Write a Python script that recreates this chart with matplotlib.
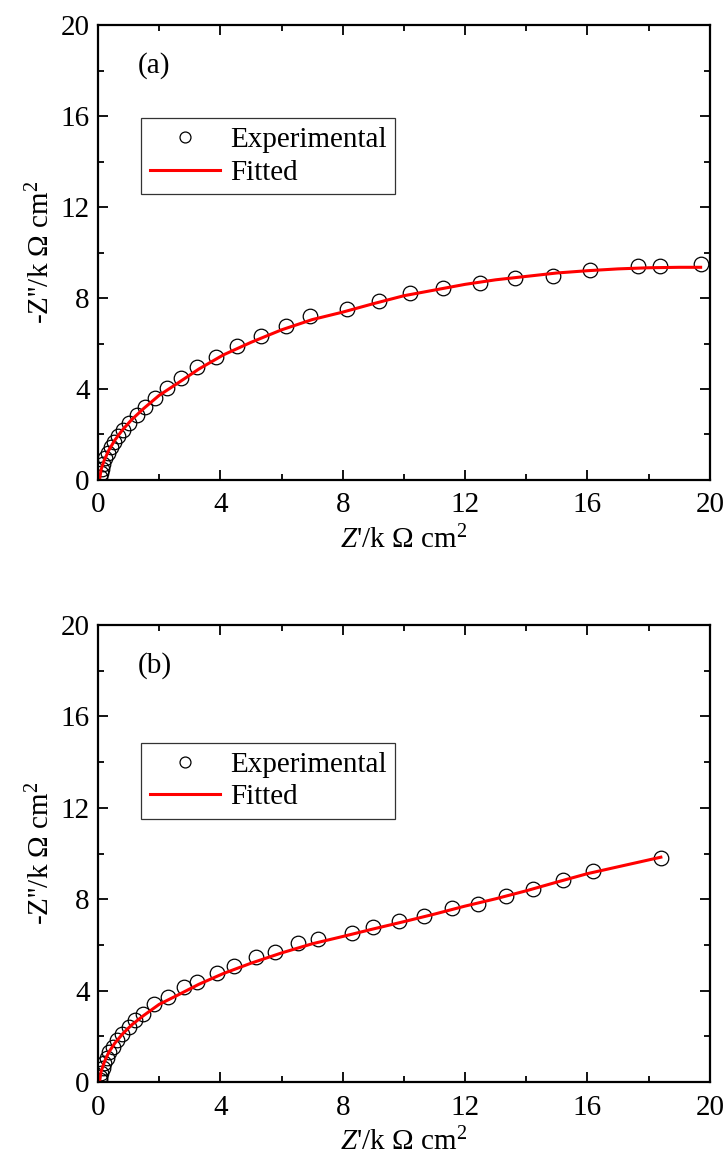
import matplotlib
matplotlib.use("Agg")
import matplotlib.pyplot as plt
from matplotlib.ticker import MultipleLocator

plt.rcParams['font.family'] = ['Liberation Serif', 'DejaVu Serif']
plt.rcParams['mathtext.fontset'] = 'custom'
plt.rcParams['mathtext.rm'] = 'Liberation Serif'
plt.rcParams['mathtext.it'] = 'Liberation Serif:italic'

# panel (a) data
exp_a_x = [0.07, 0.10, 0.13, 0.18, 0.24, 0.32, 0.42, 0.52, 0.64, 0.82, 1.01, 1.27,
           1.54, 1.86, 2.25, 2.71, 3.24, 3.86, 4.54, 5.33, 6.14, 6.93, 8.14, 9.2,
           10.2, 11.27, 12.48, 13.63, 14.87, 16.08, 17.65, 18.37, 19.7]
exp_a_y = [0.12, 0.3, 0.5, 0.72, 0.95, 1.2, 1.45, 1.68, 1.92, 2.2, 2.5, 2.86,
           3.2, 3.6, 4.05, 4.48, 4.95, 5.4, 5.87, 6.31, 6.75, 7.22, 7.53, 7.88,
           8.24, 8.42, 8.68, 8.88, 8.97, 9.25, 9.4, 9.4, 9.48]
fit_a_x = [0.05, 0.1, 0.2, 0.35, 0.55, 0.8, 1.1, 1.5, 2.0, 2.6, 3.3, 4.1, 5.0,
           6.0, 7.0, 8.0, 9.0, 10.0, 11.0, 12.0, 13.0, 14.0, 15.0, 16.0, 17.0,
           18.0, 19.0, 19.7]
fit_a_y = [0.0, 0.45, 0.85, 1.3, 1.75, 2.2, 2.65, 3.15, 3.72, 4.25, 4.88, 5.5,
           6.05, 6.6, 7.05, 7.38, 7.75, 8.1, 8.35, 8.6, 8.8, 8.95, 9.1, 9.2,
           9.28, 9.33, 9.35, 9.35]

# panel (b) data
exp_b_x = [0.06, 0.08, 0.11, 0.15, 0.21, 0.28, 0.37, 0.48, 0.62, 0.8, 1.0, 1.21,
           1.47, 1.83, 2.29, 2.81, 3.24, 3.89, 4.44, 5.16, 5.78, 6.54, 7.19, 8.3,
           8.99, 9.84, 10.65, 11.57, 12.42, 13.33, 14.22, 15.2, 16.18, 18.4]
exp_b_y = [0.08, 0.22, 0.4, 0.6, 0.82, 1.05, 1.3, 1.55, 1.82, 2.1, 2.4, 2.71,
           2.98, 3.41, 3.72, 4.16, 4.38, 4.77, 5.08, 5.47, 5.69, 6.08, 6.26, 6.52,
           6.78, 7.05, 7.26, 7.6, 7.79, 8.14, 8.44, 8.84, 9.23, 9.8]
fit_b_x = [0.05, 0.1, 0.2, 0.35, 0.55, 0.8, 1.1, 1.5, 2.0, 2.6, 3.3, 4.1, 5.0,
           6.0, 7.0, 8.0, 9.0, 10.0, 11.0, 12.0, 13.0, 14.0, 15.0, 16.0, 17.0,
           18.0, 18.4]
fit_b_y = [0.0, 0.45, 0.85, 1.3, 1.7, 2.1, 2.5, 2.92, 3.4, 3.8, 4.28, 4.75, 5.2,
           5.65, 6.05, 6.37, 6.7, 7.02, 7.35, 7.7, 8.02, 8.37, 8.75, 9.12, 9.42,
           9.72, 9.84]

ticks = [0, 4, 8, 12, 16, 20]
fs = 21

fig = plt.figure(figsize=(7.28, 11.65), dpi=100)
ax_a = fig.add_axes([0.1346, 0.588, 0.8404, 0.3905])
ax_b = fig.add_axes([0.1346, 0.0712, 0.8404, 0.3923])


def draw_panel(ax, ex, ey, fx, fy, tag, leg_box):
    ax.plot(ex, ey, 'o', mfc='none', mec='black', ms=10.5, mew=0.9,
            label='Experimental')
    ax.plot(fx, fy, '-', color='red', lw=2.2, label='Fitted')
    ax.set_xlim(0, 20)
    ax.set_ylim(0, 20)
    ax.set_xticks(ticks)
    ax.set_yticks(ticks)
    ax.xaxis.set_minor_locator(MultipleLocator(2))
    ax.yaxis.set_minor_locator(MultipleLocator(2))
    ax.tick_params(which='both', direction='in', top=True, right=True,
                   labelsize=fs, width=1.3, pad=6)
    ax.tick_params(axis='x', which='both', pad=9)
    ax.tick_params(which='major', length=7)
    ax.tick_params(which='minor', length=4)
    for s in ax.spines.values():
        s.set_linewidth(1.6)
    ax.set_xlabel(r"$\it{Z}$'/k $\Omega$ cm$^2$", fontsize=fs, labelpad=5)
    ax.set_ylabel(r"-Z''/k $\Omega$ cm$^2$", fontsize=fs, labelpad=4)
    ax.text(0.065, 0.912, tag, transform=ax.transAxes, fontsize=fs,
            va='center', ha='left')
    leg = ax.legend(loc='upper left', bbox_to_anchor=leg_box, fontsize=fs,
                    frameon=True, fancybox=False, edgecolor='black',
                    borderpad=0.3, handlelength=2.4, handletextpad=0.35,
                    labelspacing=0.2, borderaxespad=0, markerscale=0.75)
    leg.get_frame().set_linewidth(0.9)


draw_panel(ax_a, exp_a_x, exp_a_y, fit_a_x, fit_a_y, '(a)', (0.07, 0.795))
draw_panel(ax_b, exp_b_x, exp_b_y, fit_b_x, fit_b_y, '(b)', (0.07, 0.742))

fig.savefig('out.png', dpi=100)
